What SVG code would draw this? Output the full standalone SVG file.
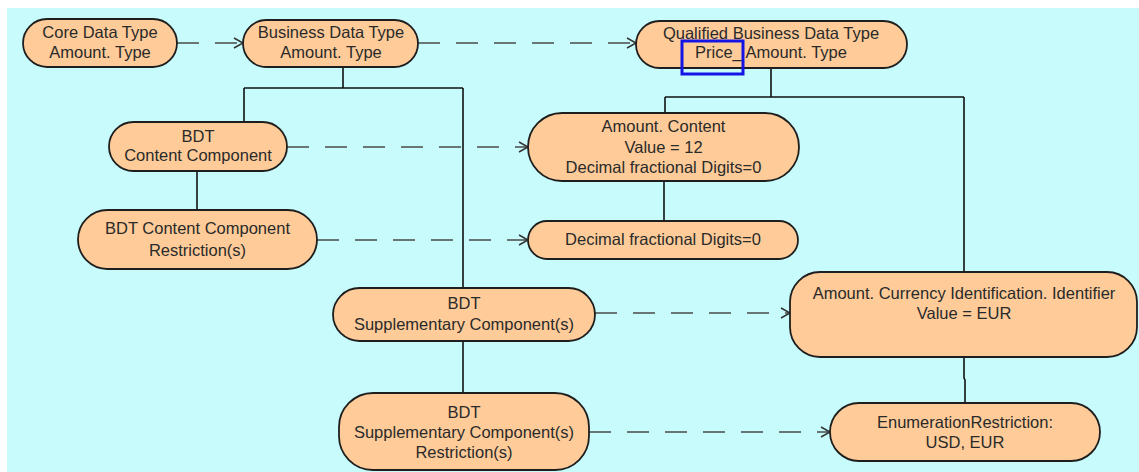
<svg xmlns="http://www.w3.org/2000/svg" width="1139" height="472" viewBox="0 0 1139 472">
<defs>
<style>
.node rect{fill:#FFCC99;stroke:#1e1e1e;stroke-width:1.8}
.node text{font-family:"Liberation Sans",Arial,sans-serif;font-size:16.5px;fill:#2a2a2a;text-anchor:middle}
.solid{stroke:#111;stroke-width:1.6;fill:none}
.dash{stroke:#4a4a4a;stroke-width:1.6;fill:none;stroke-dasharray:22 16;marker-end:url(#arr)}
</style>
<marker id="arr" markerWidth="12" markerHeight="12" refX="10" refY="6" orient="auto" markerUnits="userSpaceOnUse">
<path d="M1,1 L10,6 L1,11" fill="none" stroke="#333" stroke-width="1.5"/>
</marker>
</defs>
<rect x="0" y="0" width="1139" height="472" fill="#FFFFFF"/>
<rect x="7" y="8" width="1132" height="464" fill="#C8FCFC"/>

<g id="connectors">
<path class="solid" d="M343,67 V88 M244,88 H463 M244,88 V122 M463,88 V288"/>
<path class="solid" d="M197,171 V210"/>
<path class="solid" d="M463,341 V393"/>
<path class="solid" d="M771,68 V97 M665,97 H964 M665,97 V113 M964,97 V272"/>
<path class="solid" d="M664,181 V221"/>
<path class="solid" d="M964,357 V378 L965,380 V403"/>
<path class="dash" d="M177,43 H243"/>
<path class="dash" d="M418,43 H636"/>
<path class="dash" d="M287,147 H528"/>
<path class="dash" d="M317,240 H528"/>
<path class="dash" d="M595,313 H790"/>
<path class="dash" d="M589,432 H830"/>
</g>

<g id="core" class="node">
<rect x="23" y="19" width="154" height="48" rx="24"/>
<text x="100" y="38">Core Data Type</text>
<text x="100" y="58">Amount. Type</text>
</g>
<g id="business" class="node">
<rect x="243" y="20" width="175" height="47" rx="23.5"/>
<text x="331" y="38">Business Data Type</text>
<text x="331" y="58">Amount. Type</text>
</g>
<g id="qualified" class="node">
<rect x="636" y="21" width="271" height="47" rx="23.5"/>
<text x="771" y="39">Qualified Business Data Type</text>
<text x="771" y="58">Price_ Amount. Type</text>
<rect x="682" y="41" width="61" height="33" fill="none" stroke="#1414E6" stroke-width="3" style="fill:none;stroke:#1414E6;stroke-width:3"/>
</g>
<g id="contentcomp" class="node">
<rect x="109" y="122" width="178" height="49" rx="24.5"/>
<text x="198" y="142">BDT</text>
<text x="198" y="161">Content Component</text>
</g>
<g id="contentrestr" class="node">
<rect x="78" y="210" width="239" height="59" rx="29.5"/>
<text x="197.5" y="234">BDT Content Component</text>
<text x="197.5" y="256">Restriction(s)</text>
</g>
<g id="amountcontent" class="node">
<rect x="528" y="113" width="271" height="68" rx="34"/>
<text x="663.5" y="132">Amount. Content</text>
<text x="663.5" y="153">Value = 12</text>
<text x="663.5" y="173">Decimal fractional Digits=0</text>
</g>
<g id="decimal" class="node">
<rect x="528" y="221" width="270" height="38" rx="19"/>
<text x="663" y="245">Decimal fractional Digits=0</text>
</g>
<g id="suppcomp" class="node">
<rect x="333" y="288" width="262" height="53" rx="26.5"/>
<text x="464" y="309">BDT</text>
<text x="464" y="330">Supplementary Component(s)</text>
</g>
<g id="supprestr" class="node">
<rect x="339" y="393" width="250" height="77" rx="34"/>
<text x="464" y="418">BDT</text>
<text x="464" y="438">Supplementary Component(s)</text>
<text x="464" y="458">Restriction(s)</text>
</g>
<g id="currency" class="node">
<rect x="790" y="272" width="347" height="85" rx="30"/>
<text x="964" y="299">Amount. Currency Identification. Identifier</text>
<text x="964" y="319">Value = EUR</text>
</g>
<g id="enumeration" class="node">
<rect x="830" y="403" width="270" height="58" rx="29"/>
<text x="965" y="428">EnumerationRestriction:</text>
<text x="965" y="448">USD, EUR</text>
</g>
</svg>
